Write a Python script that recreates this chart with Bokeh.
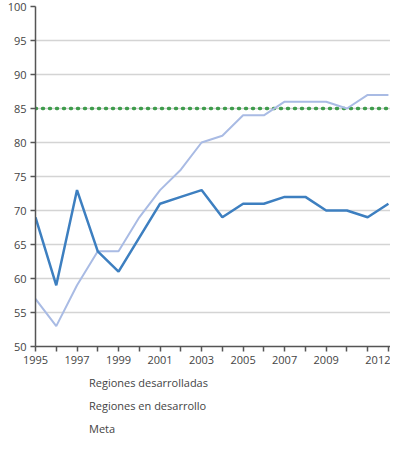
from bokeh.plotting import figure
from bokeh.layouts import column
from bokeh.models import Range1d, FixedTicker, Legend, LegendItem
from bokeh.embed import file_html
from bokeh.resources import INLINE

years = list(range(1995, 2013))
desarrolladas = [69, 59, 73, 64, 61, 66, 71, 72, 73, 69, 71, 71, 72, 72, 70, 70, 69, 71]
en_desarrollo = [57, 53, 59, 64, 64, 69, 73, 76, 80, 81, 84, 84, 86, 86, 86, 85, 87, 87]
meta = [85] * len(years)
x_labels = {1995: "1995", 1997: "1997", 1999: "1999", 2001: "2001", 2003: "2003",
            2005: "2005", 2007: "2007", 2009: "2009", 2012: "2012"}
y_ticks = [50, 55, 60, 65, 70, 75, 80, 85, 90, 95, 100]
series_names = ["Regiones desarrolladas", "Regiones en desarrollo", "Meta"]
colors = ["#3d7fc0", "#a9bbe4", "#3f9c4c"]

p = figure(width=390, height=366, output_backend="svg", toolbar_location=None,
           x_range=Range1d(1995, 2012.1), y_range=Range1d(50, 100),
           min_border_left=35, min_border_right=0, min_border_top=6, min_border_bottom=0)
p.outline_line_color = None
p.background_fill_color = "white"
p.border_fill_color = "white"

p.xgrid.grid_line_color = None
p.ygrid.grid_line_color = "#d4d4d4"
p.ygrid.grid_line_width = 1.5

p.xaxis.ticker = FixedTicker(ticks=years)
p.xaxis.major_label_overrides = {y: x_labels.get(y, "") for y in years}
p.yaxis.ticker = FixedTicker(ticks=y_ticks)
for ax in (p.xaxis[0], p.yaxis[0]):
    ax.axis_line_color = "#555555"
    ax.axis_line_width = 1.5
    ax.major_tick_line_color = "#555555"
    ax.major_tick_line_width = 1.5
    ax.major_tick_in = 0
    ax.major_tick_out = 5
    ax.minor_tick_line_color = None
    ax.major_label_text_font = "Open Sans"
    ax.major_label_text_font_size = "11px"
    ax.major_label_text_color = "#444444"
    ax.major_label_standoff = 4

p.line(years, meta, line_color=colors[2], line_width=3.5, line_dash="1 6", line_cap="round")
p.line(years, en_desarrollo, line_color=colors[1], line_width=2)
p.line(years, desarrolladas, line_color=colors[0], line_width=2.5)

# legend strip below the chart
pl = figure(width=390, height=72, output_backend="svg", toolbar_location=None,
            x_axis_type=None, y_axis_type=None,
            min_border_left=0, min_border_right=0, min_border_top=0, min_border_bottom=0)
pl.outline_line_color = None
pl.xgrid.grid_line_color = None
pl.ygrid.grid_line_color = None
l_des = pl.line(x=[], y=[], line_color=colors[0], line_width=2.5)
l_dev = pl.line(x=[], y=[], line_color=colors[1], line_width=2)
l_meta = pl.line(x=[], y=[], line_color=colors[2], line_width=3.5, line_dash="1 6", line_cap="round")

legend = Legend(items=[
    LegendItem(label=series_names[0], renderers=[l_des]),
    LegendItem(label=series_names[1], renderers=[l_dev]),
    LegendItem(label=series_names[2], renderers=[l_meta]),
], location=(24, 0), orientation="vertical", margin=0, padding=0,
    border_line_color=None, background_fill_alpha=0,
    glyph_width=22, glyph_height=20, label_height=20, spacing=3, label_standoff=8,
    label_text_font="Open Sans", label_text_font_size="11px", label_text_color="#444444")
pl.add_layout(legend, "center")

open("out.html", "w").write(file_html(column(p, pl), INLINE))
